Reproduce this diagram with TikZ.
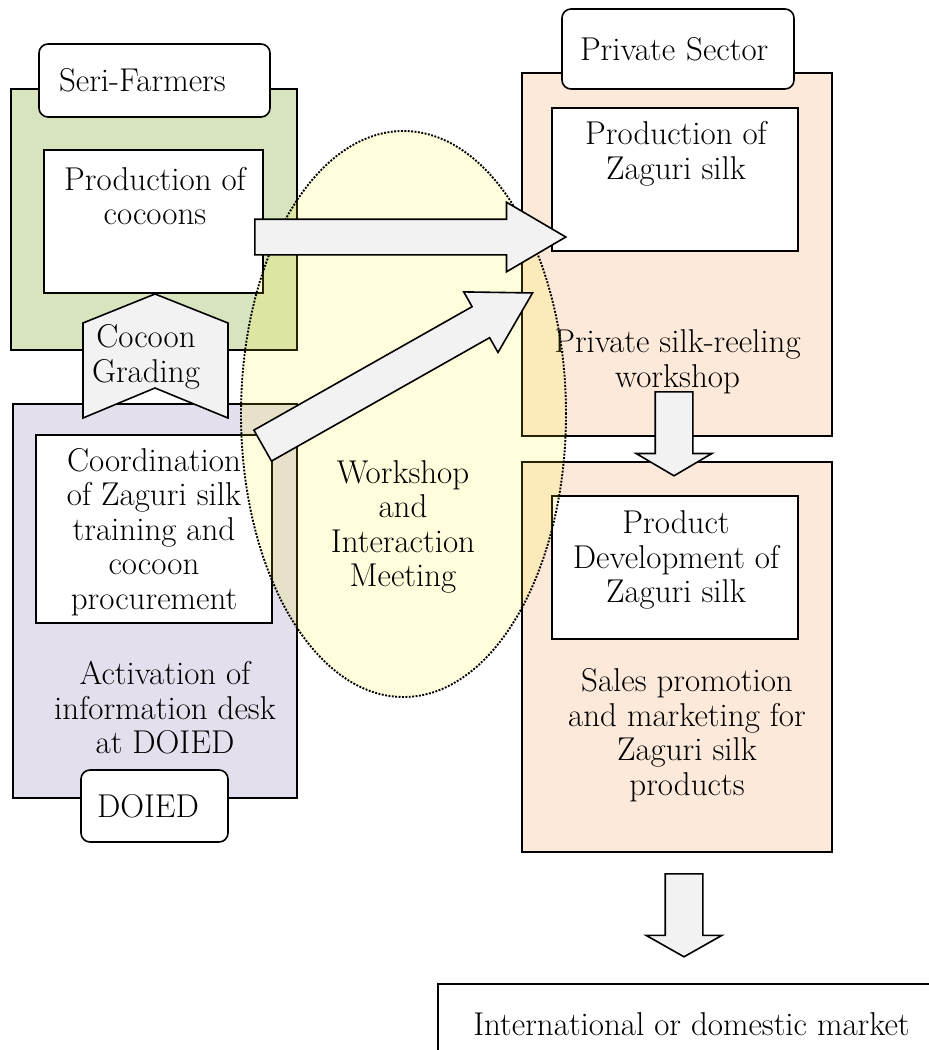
\documentclass[tikz,border=0pt]{standalone}
\usepackage{tikz}
\usetikzlibrary{shapes.geometric,shapes.arrows}
\definecolor{greenfill}{HTML}{D7E4BD}
\definecolor{lilacfill}{HTML}{E4DFEC}
\definecolor{peachfill}{HTML}{FDE9D9}
\definecolor{arrowfill}{HTML}{F2F2F2}
\begin{document}
\begin{tikzpicture}[x=1pt,y=-1pt,
  every node/.style={font=\fontsize{33}{34.5}\selectfont},
  group/.style={draw, line width=1.6pt, inner sep=0pt},
  whitebox/.style={draw, fill=white, line width=1.6pt, inner sep=0pt},
  tag/.style={draw, fill=white, line width=1.6pt, rounded corners=9pt, align=left, inner xsep=20pt, inner ysep=0pt},
  txt/.style={align=center, inner sep=0pt},
  flow/.style={single arrow, draw, fill=arrowfill, line width=1.6pt, inner xsep=0pt, single arrow head indent=0pt, anchor=tail}]
\useasboundingbox (0,0) rectangle (929,1050);
% groups
\node[group, fill=greenfill, minimum width=286pt, minimum height=261pt] (serigrp) at (154,219.5) {};
\node[group, fill=lilacfill, minimum width=284pt, minimum height=394pt] (doiedgrp) at (155,601) {};
\node[group, fill=peachfill, minimum width=310pt, minimum height=363pt] (privgrp) at (677,254.5) {};
\node[group, fill=peachfill, minimum width=310pt, minimum height=390pt] (salesgrp) at (677,657) {};
% tags
\node[tag, text width=191pt, minimum height=73pt] (seritag) at (154.5,80.5) {Seri-Farmers};
\node[tag, text width=196pt, minimum height=80pt, inner xsep=18pt] (privtag) at (678,49) {Private Sector};
\node[tag, text width=115pt, minimum height=72pt, inner xsep=16pt] (doiedtag) at (154.5,806) {DOIED};
% boxes
\node[whitebox, minimum width=219pt, minimum height=143pt] (cocoons) at (153.5,221.5) {};
\node[whitebox, minimum width=236pt, minimum height=188pt] (coord) at (154,529) {};
\node[whitebox, minimum width=246pt, minimum height=143pt] (zaguri) at (675,179.5) {};
\node[whitebox, minimum width=246pt, minimum height=143pt] (product) at (675,567.5) {};
\node[whitebox, minimum width=507pt, minimum height=81pt] (market) at (691.5,1024.5) {International or domestic market};
% cocoon grading
\draw[line width=1.6pt, fill=arrowfill] (83,323) -- (155,294) -- (228,323) -- (228,418) -- (155,388) -- (83,418) -- cycle;
% texts
\node[txt] (cocoonstxt) at (155,196) {Production of\\cocoons};
\node[txt] (gradetxt) at (146,357) {Cocoon\\Grading};
\node[txt] (coordtxt) at (154,532) {Coordination\\of Zaguri silk\\training and\\cocoon\\procurement};
\node[txt] (activtxt) at (165,708) {Activation of\\information desk\\at DOIED};
\node[txt] (zaguritxt) at (676,154) {Production of\\Zaguri silk};
\node[txt] (reeltxt) at (677.5,362) {Private silk-reeling\\workshop};
\node[txt] (producttxt) at (676,560) {Product\\Development of\\Zaguri silk};
\node[txt] (salestxt) at (687,735) {Sales promotion\\and marketing for\\Zaguri silk\\products};
% meeting
\node[ellipse, draw, line width=1.9pt, dash pattern=on 1.9pt off 1.5pt, fill=yellow, fill opacity=0.14, minimum width=325pt, minimum height=566pt, inner sep=0pt] (meet) at (403.5,414) {};
\node[txt] (meettxt) at (403,527) {Workshop\\and\\Interaction\\Meeting};
% flows
\node[flow, inner ysep=17pt, single arrow head extend=17pt, single arrow tip angle=60.8, minimum height=311pt] (flowA) at (254,237) {};
\node[flow, rotate=29.5, inner ysep=17pt, single arrow head extend=17pt, single arrow tip angle=60.8, minimum height=310pt] (flowB) at (262,446) {};
\node[flow, rotate=-90, inner ysep=18pt, single arrow head extend=19pt, single arrow tip angle=119, minimum height=84pt] (flowC) at (674,391) {};
\node[flow, rotate=-90, inner ysep=18pt, single arrow head extend=19pt, single arrow tip angle=121, minimum height=83pt] (flowD) at (684,873) {};
\end{tikzpicture}
\end{document}
